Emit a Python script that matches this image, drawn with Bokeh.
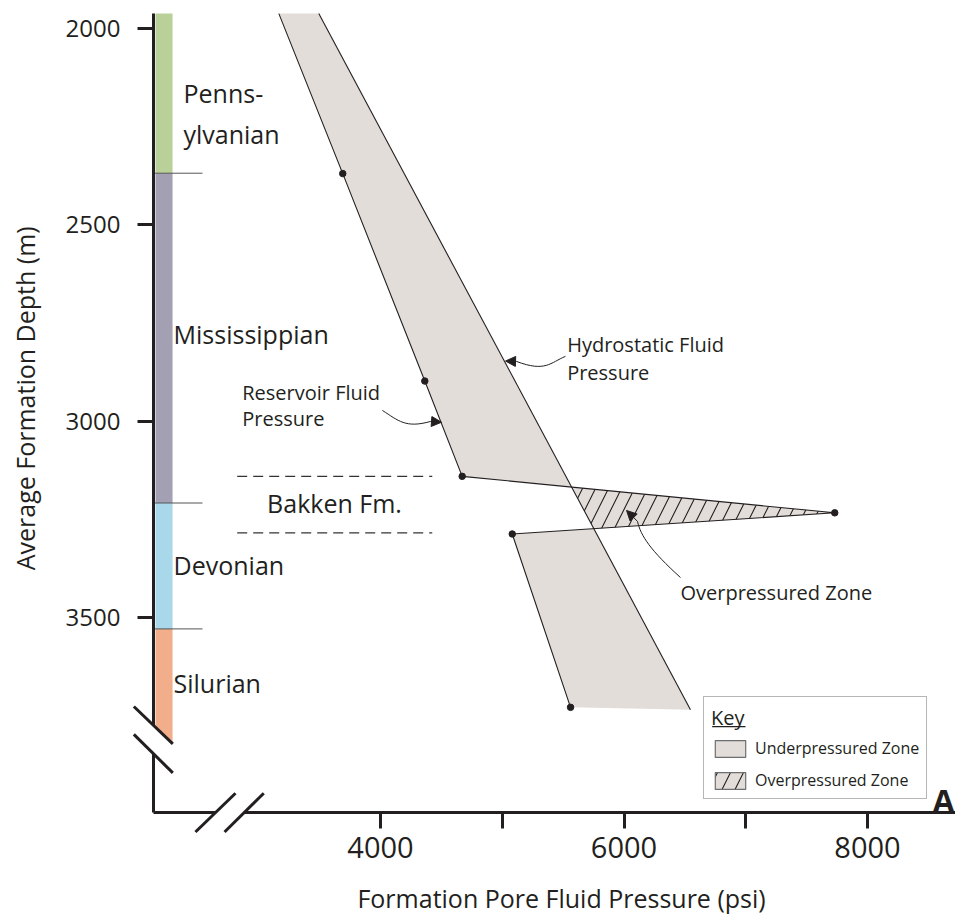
import numpy as np
from bokeh.plotting import figure
from bokeh.models import (Range1d, FixedTicker, Label, Legend, LegendItem,
                          PolyAnnotation, Arrow, NormalHead)
from bokeh.core.properties import value
from bokeh.embed import file_html
from bokeh.resources import INLINE

FONT = "Open Sans"
INK = "#231f20"
ZONE_FILL = "#e2ddd9"

# ---------------- data ----------------
# geologic column (depth in m)
formation_names = ["Penns-\nylvanian", "Mississippian", "Devonian", "Silurian"]
formation_top = [1961, 2368, 3209, 3530]
formation_base = [2368, 3209, 3530, 3823]
formation_colors = ["#b9d199", "#a3a0b4", "#a9d8ea", "#f2ad8b"]
formation_label_depth = [2216, 2777, 3368, 3667]
boundary_depths = [2368, 3209, 3530]

# reservoir fluid pressure profile (psi) vs depth (m)
res_pressure = [3165, 3690, 4364, 4671, 7731, 5082, 5561]
res_depth = [1961, 2369, 2898, 3141, 3234, 3288, 3730]

# hydrostatic fluid pressure line
hyd_pressure = [3493, 6546]
hyd_depth = [1961, 3736]

# Bakken formation limits (m)
bakken_top = 3141
bakken_base = 3285

# axis ticks
y_ticks = [2000, 2500, 3000, 3500]
x_major = [4000, 6000, 8000]
x_minor = [5000, 7000]

# axis extents (pressure of the depth axis, depth of the pressure axis)
depth_axis_bounds = (1960.7, 3998.2)
pressure_axis_bounds = (2135.5, 8722.8)


def cross(p1, d1, p2, d2, q1, e1, q2, e2):
    A = np.array([[p2 - p1, -(q2 - q1)], [d2 - d1, -(e2 - e1)]], dtype=float)
    b = np.array([q1 - p1, e1 - d1], dtype=float)
    t, _ = np.linalg.solve(A, b)
    return p1 + t * (p2 - p1), d1 + t * (d2 - d1)


hp0, hp1 = hyd_pressure
hd0, hd1 = hyd_depth
x1p, x1d = cross(res_pressure[3], res_depth[3], res_pressure[4], res_depth[4], hp0, hd0, hp1, hd1)
x2p, x2d = cross(res_pressure[4], res_depth[4], res_pressure[5], res_depth[5], hp0, hd0, hp1, hd1)

upper_p = res_pressure[:4] + [x1p, hp0]
upper_d = res_depth[:4] + [x1d, hd0]
over_p = [x1p, res_pressure[4], x2p]
over_d = [x1d, res_depth[4], x2d]
lower_p = [x2p, res_pressure[5], res_pressure[6], hp1]
lower_d = [x2d, res_depth[5], res_depth[6], hd1]

# ---------------- figure ----------------
p = figure(width=955, height=914,
           x_range=Range1d(878.8, 8722.8), y_range=Range1d(4258.3, 1927.6),
           output_backend="svg", toolbar_location=None,
           min_border_left=0, min_border_right=0, min_border_top=0, min_border_bottom=0)
p.xgrid.visible = False
p.ygrid.visible = False
p.outline_line_color = None
p.background_fill_color = "white"

for ax in (p.xaxis[0], p.yaxis[0]):
    ax.axis_line_width = 3
    ax.axis_line_color = INK
    ax.major_tick_line_width = 3
    ax.major_tick_line_color = INK
    ax.major_tick_out = 16
    ax.major_tick_in = 0
    ax.major_label_text_font = FONT
    ax.major_label_text_color = INK

p.yaxis.fixed_location = pressure_axis_bounds[0]
p.yaxis.bounds = depth_axis_bounds
p.yaxis.ticker = FixedTicker(ticks=y_ticks)
p.yaxis.minor_tick_out = 0
p.yaxis.minor_tick_in = 0
p.yaxis.major_label_text_font_size = "24px"
p.yaxis.major_label_standoff = 17

p.xaxis.fixed_location = depth_axis_bounds[1]
p.xaxis.bounds = pressure_axis_bounds
p.xaxis.ticker = FixedTicker(ticks=x_major, minor_ticks=x_minor)
p.xaxis.minor_tick_out = 16
p.xaxis.minor_tick_in = 0
p.xaxis.minor_tick_line_width = 3
p.xaxis.minor_tick_line_color = INK
p.xaxis.major_label_text_font_size = "29px"
p.xaxis.major_label_standoff = 8

# geologic column bars
p.quad(left=2152, right=2292, top=formation_top, bottom=formation_base,
       fill_color=formation_colors, line_color=None)
p.segment(x0=[pressure_axis_bounds[0]] * len(boundary_depths), x1=[2538] * len(boundary_depths),
          y0=boundary_depths, y1=boundary_depths, line_color="#555555", line_width=1)
p.text(x=[2382, 2300, 2300, 2300], y=formation_label_depth, text=formation_names,
       text_font=value(FONT), text_font_size=value("25px"), text_color=INK,
       text_baseline="middle", text_align="left", text_line_height=1.2)

# Bakken dashed limits
p.segment(x0=[2823, 2823], x1=[4425, 4425], y0=[bakken_top, bakken_base],
          y1=[bakken_top, bakken_base], line_color="#333333", line_width=1.2, line_dash="10 6")
p.add_layout(Label(x=3622, y=3210, text="Bakken Fm.", text_font=FONT, text_font_size="25px",
                   text_color=INK, text_align="center", text_baseline="middle"))

# zones
p.patch(upper_p, upper_d, fill_color=ZONE_FILL, line_color=None)
p.patch(lower_p, lower_d, fill_color=ZONE_FILL, line_color=None)
p.patch(over_p, over_d, fill_color=ZONE_FILL, line_color=None,
        hatch_pattern="/", hatch_color=INK, hatch_weight=1.1, hatch_scale=26)

# profiles
p.line(res_pressure, res_depth, line_color=INK, line_width=1.1)
p.line(hyd_pressure, hyd_depth, line_color=INK, line_width=1.1)
p.scatter(res_pressure[1:], res_depth[1:], size=6.5, color=INK)

# annotation texts
ann = dict(text_font=FONT, text_font_size="20px", text_color=INK,
           text_align="left", text_baseline="middle")
p.add_layout(Label(x=2864, y=2926, text="Reservoir Fluid", **ann))
p.add_layout(Label(x=2864, y=2994, text="Pressure", **ann))
p.add_layout(Label(x=5533, y=2805, text="Hydrostatic Fluid", **ann))
p.add_layout(Label(x=5533, y=2875, text="Pressure", **ann))
p.add_layout(Label(x=6464, y=3436, text="Overpressured Zone", **ann))

# wavy pointer arrows
p.bezier(x0=[4016, 5519, 6464], y0=[2973, 2835, 3399],
         x1=[4411, 5117, 6111], y1=[3001, 2848, 3256],
         cx0=[4148, 5396, 6218], cy0=[2999, 2851, 3330],
         cx1=[4205, 5355, 6136], cy1=[3019, 2876, 3292],
         line_color=INK, line_width=1)
for xs, ys, xe, ye in [(4411, 3001, 4501, 3003), (5117, 2848, 5027, 2847), (6111, 3256, 6021, 3228)]:
    p.add_layout(Arrow(x_start=xs, y_start=ys, x_end=xe, y_end=ye, line_color=INK, line_width=1,
                       end=NormalHead(size=10, fill_color=INK, line_color=INK)))

# axis titles
p.add_layout(Label(x=1079, y=2942, text="Average Formation Depth (m)", angle=np.pi / 2,
                   text_font=FONT, text_font_size="25px", text_color=INK,
                   text_align="center", text_baseline="middle"))
p.add_layout(Label(x=5487, y=4217, text="Formation Pore Fluid Pressure (psi)",
                   text_font=FONT, text_font_size="25px", text_color=INK,
                   text_align="center", text_baseline="middle"))
p.add_layout(Label(x=8534, y=3968, text="A", text_font=FONT, text_font_size="32px",
                   text_font_style="bold", text_color=INK,
                   text_align="left", text_baseline="alphabetic"))

# axis breaks
p.add_layout(PolyAnnotation(xs=[1974, 2294, 2294, 1974], ys=[3728, 3823, 3897, 3799],
                            fill_color="white", fill_alpha=1, line_color=None))
p.add_layout(PolyAnnotation(xs=[2480, 2809, 3041, 2719], ys=[4048, 3949, 3949, 4048],
                            fill_color="white", fill_alpha=1, line_color=None))
for xs, ys, xe, ye in [(1974, 3728, 2294, 3823), (1974, 3799, 2294, 3897),
                       (2480, 4048, 2809, 3949), (2719, 4048, 3041, 3949)]:
    p.add_layout(Arrow(x_start=xs, y_start=ys, x_end=xe, y_end=ye, start=None, end=None,
                       line_color=INK, line_width=3))

# key (swatch renderers kept outside the visible ranges)
dummy_under = p.patch([0, 1, 1], [0, 0, 1], fill_color=ZONE_FILL, line_color="#6d6e70", line_width=1.2)
dummy_over = p.patch([0, 1, 1], [0, 0, 1], fill_color=ZONE_FILL, line_color="#6d6e70", line_width=1.2,
                     hatch_pattern="/", hatch_color=INK, hatch_weight=1.1, hatch_scale=26)
legend = Legend(items=[LegendItem(label="Underpressured Zone", renderers=[dummy_under]),
                       LegendItem(label="Overpressured Zone", renderers=[dummy_over])],
                title="Key", location=(703, 115), orientation="vertical",
                border_line_color="#6d6e70", border_line_width=1.5,
                background_fill_alpha=0, padding=7, spacing=10, margin=0,
                glyph_width=38, glyph_height=21, label_height=21, label_standoff=6,
                label_text_font=FONT, label_text_font_size="16px", label_text_color=INK,
                title_text_font=FONT, title_text_font_size="20px", title_text_font_style="normal",
                title_text_color=INK, title_standoff=6)
p.add_layout(legend)
p.segment(x0=[6724], x1=[6998], y0=[3779], y1=[3779], line_color=INK, line_width=1.2)

open("out.html", "w").write(file_html(p, INLINE))
